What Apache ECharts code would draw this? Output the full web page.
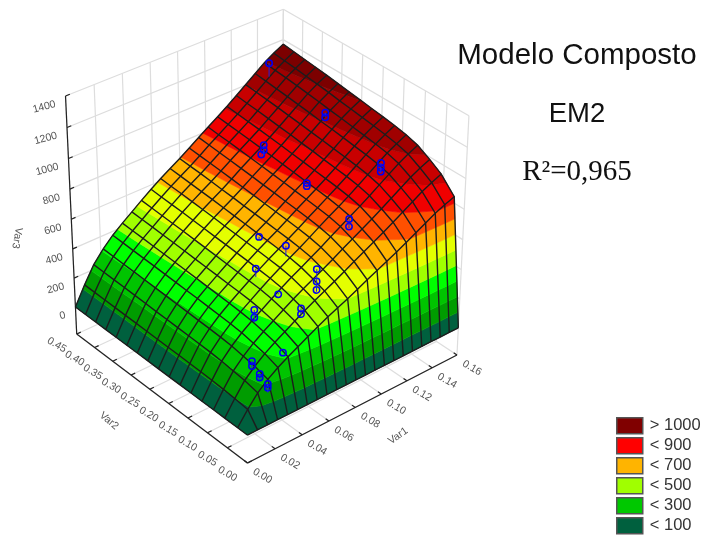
<!DOCTYPE html>
<html>
<head>
<meta charset="utf-8">
<style>html,body{margin:0;padding:0;background:#fff}#c{width:703px;height:536px}</style>
<script src="https://cdn.jsdelivr.net/npm/echarts@6/dist/echarts.min.js"></script>
</head>
<body>
<div id="c"></div>
<script>
// ---- axis ticks ----
const var1Ticks = [0, 0.02, 0.04, 0.06, 0.08, 0.10, 0.12, 0.14, 0.16];
const var2Ticks = [0, 0.05, 0.10, 0.15, 0.20, 0.25, 0.30, 0.35, 0.40, 0.45];
const var3Ticks = [0, 200, 400, 600, 800, 1000, 1200, 1400];
const var3Floor = -190;
// ---- fitted surface: one row per var2Grid value, one column per var1Grid value ----
const var1Grid = [0,0.0073,0.0145,0.0218,0.0291,0.0364,0.0436,0.0509,0.0582,0.0655,0.0727,0.08,0.0873,0.0945,0.1018,0.1091,0.1164,0.1236,0.1309,0.1382,0.1455,0.1527,0.16];
const var2Grid = [0, 0.024, 0.056, 0.084, 0.113, 0.141, 0.169, 0.197, 0.225, 0.253, 0.281, 0.309, 0.338, 0.366, 0.394, 0.422, 0.45];
const var3Rows = [
 [0,0,0,0,0,0,0,0,0,0,0,0,0,0,0,0,0,0,0,0,0,0,0],
 [0,89,167,223,269,307,342,377,411,443,472,500,531,563,594,624,655,688,722,757,791,818,842],
 [0,98,186,248,299,342,380,419,457,492,524,556,590,626,660,694,728,765,802,841,878,909,936],
 [0,104,195,261,315,360,400,441,481,518,552,585,621,658,695,730,766,805,845,885,925,957,985],
 [0,108,204,273,329,376,418,461,502,541,576,612,649,688,726,763,801,841,883,925,966,1000,1030],
 [0,111,209,279,337,384,428,472,514,554,590,626,664,704,743,780,819,860,903,946,988,1022,1053],
 [0,112,212,283,341,390,434,478,521,561,598,635,674,714,753,792,831,873,916,960,1002,1037,1068],
 [0,114,214,286,345,394,438,484,527,568,605,641,681,722,761,800,840,882,926,970,1013,1049,1080],
 [0,115,216,289,349,398,443,488,532,573,610,648,688,729,769,808,848,891,935,980,1023,1059,1090],
 [0,116,219,292,352,402,447,494,538,579,617,655,695,737,777,817,857,901,945,990,1034,1070,1102],
 [0,117,220,295,355,406,451,498,542,584,622,660,701,743,784,824,865,908,953,998,1043,1079,1112],
 [0,118,223,298,359,410,456,503,548,590,629,667,708,751,792,832,874,918,963,1009,1054,1091,1123],
 [0,119,225,300,362,414,460,508,553,596,635,673,715,758,799,840,882,926,972,1018,1064,1101,1134],
 [0,120,227,303,365,417,464,512,558,601,640,679,721,764,806,847,889,934,980,1027,1073,1110,1143],
 [0,121,229,305,368,421,468,516,562,606,645,685,727,770,813,854,896,942,988,1035,1082,1119,1152],
 [0,122,230,308,371,424,471,520,566,610,650,689,732,776,818,860,903,948,995,1043,1089,1127,1161],
 [0,123,232,310,374,427,475,524,571,615,655,695,738,782,825,867,910,956,1003,1051,1098,1136,1170]
];
// ---- observed points ----
const pointVar1 = [0.141,0.1416,0.1416,0.106,0.107,0.107,0.107,0.107,0.136,0.136,0.136,0.1045,0.1045,0.0704,0.072,0.0544,0.0695,0.0695,0.0695,0.0552,0.0554,0.0554,0.0368,0.0368,0.036,0.0206,0.0206,0.0192,0.0192,0.02,0.02];
const pointVar2 = [0.423,0.281,0.281,0.325,0.322,0.322,0.213,0.213,0.126,0.126,0.126,0.101,0.101,0.21,0.1485,0.164,0.065,0.065,0.065,0.111,0.056,0.056,0.108,0.108,0.035,0.0588,0.0588,0.035,0.035,0.018,0.018];
const pointVar3 = [1150,1012,1042,828,858,890,800,820,928,953,984,735,785,615,658,552,527,583,664,475,445,482,406,456,315,250,282,225,250,187,212];
// ---- contour bands ----
const bandLimits = [100,200,300,400,500,600,700,800,900,1000,1100,99999];
const bandColors = ['#00603e','#009c00','#00c400','#00ff00','#a0ff00','#e4ff00','#ffb400','#ff5000','#f00000','#c80000','#a00000','#7c0000'];
// ---- legend ----
const legendNames = ['> 1000','< 900','< 700','< 500','< 300','< 100'];
const legendColors = ['#800000','#ff0000','#ffb400','#a0ff00','#00c800','#00603e'];

// ---- camera of the box ----
const CAM = {
  x:[236.6,-165.4,-16.0,247.5],
  y:[-86.95,-105.6,-260.6,463],
  d:[0.05935,0.07007,-0.0611,1]
};
const maxV1 = 0.16, maxV2 = 0.45, maxV3 = 1400;
function project(v1,v2,v3){
  const u=v1/maxV1, v=v2/maxV2, w=(v3-var3Floor)/(maxV3-var3Floor);
  const den=CAM.d[0]*u+CAM.d[1]*v+CAM.d[2]*w+CAM.d[3];
  return [(CAM.x[0]*u+CAM.x[1]*v+CAM.x[2]*w+CAM.x[3])/den,
          (CAM.y[0]*u+CAM.y[1]*v+CAM.y[2]*w+CAM.y[3])/den];
}
function surfaceAt(v1,v2){
  let i=0,j=0;
  while(i<var1Grid.length-2 && v1>var1Grid[i+1]) i++;
  while(j<var2Grid.length-2 && v2>var2Grid[j+1]) j++;
  const s=(v1-var1Grid[i])/(var1Grid[i+1]-var1Grid[i]), t=(v2-var2Grid[j])/(var2Grid[j+1]-var2Grid[j]);
  return (1-s)*(1-t)*var3Rows[j][i]+s*(1-t)*var3Rows[j][i+1]+(1-s)*t*var3Rows[j+1][i]+s*t*var3Rows[j+1][i+1];
}
function clipAbove(poly,lim,sign){
  const out=[];
  for(let k=0;k<poly.length;k++){
    const a=poly[k], b=poly[(k+1)%poly.length];
    const ia=sign*(a[2]-lim)>=0, ib=sign*(b[2]-lim)>=0;
    if(ia) out.push(a);
    if(ia!==ib){
      const t=(lim-a[2])/(b[2]-a[2]);
      out.push([a[0]+t*(b[0]-a[0]),a[1]+t*(b[1]-a[1]),lim]);
    }
  }
  return out;
}
const fmt=(v,d)=>v.toFixed(d);

// ---- box lines (walls, floor, axes) ----
const boxLines=[];
function boxLine(a,b,color,width){boxLines.push({a,b,color,width});}
const WALL='#dddddd';
var1Ticks.forEach(t=>{
  boxLine([t,maxV2,var3Floor],[t,maxV2,maxV3],WALL,1.2);
  boxLine([t,0,var3Floor],[t,maxV2,var3Floor],WALL,1.2);
});
var2Ticks.forEach(t=>{
  boxLine([maxV1,t,var3Floor],[maxV1,t,maxV3],WALL,1.2);
  boxLine([0,t,var3Floor],[maxV1,t,var3Floor],WALL,1.2);
});
var3Ticks.forEach(t=>{
  boxLine([0,maxV2,t],[maxV1,maxV2,t],WALL,1.2);
  boxLine([maxV1,maxV2,t],[maxV1,0,t],WALL,1.2);
});
const AX='#222222';
boxLine([0,0,var3Floor],[maxV1,0,var3Floor],AX,1.2);
boxLine([0,0,var3Floor],[0,maxV2,var3Floor],AX,1.2);
boxLine([0,maxV2,var3Floor],[0,maxV2,maxV3],AX,1.2);
var1Ticks.forEach(t=>boxLine([t,0,var3Floor],[t,0.008,var3Floor],AX,1.2));
var2Ticks.forEach(t=>boxLine([0,t,var3Floor],[0.003,t,var3Floor],AX,1.2));
var3Ticks.forEach(t=>boxLine([0,maxV2,t],[0.003,maxV2,t],AX,1.2));

// ---- tick labels and axis names ----
const labels=[];
var1Ticks.forEach(t=>{const p=project(t,0,var3Floor);labels.push({t:fmt(t,2),x:p[0]+15,y:p[1]+13,r:-30,s:10.5,al:'center'});});
var2Ticks.forEach(t=>{const p=project(0,t,var3Floor);labels.push({t:fmt(t,2),x:p[0]-20,y:p[1]+11,r:-30,s:10.5,al:'center'});});
var3Ticks.forEach(t=>{const p=project(0,maxV2,t);labels.push({t:String(t),x:p[0]-10,y:p[1]+8,r:15,s:10.5,al:'right'});});
labels.push({t:'Var1',x:398,y:436,r:35,s:10.5,al:'center'});
labels.push({t:'Var2',x:109,y:421,r:-40,s:10.5,al:'center'});
labels.push({t:'Var3',x:17,y:238,r:-100,s:10.5,al:'center'});

// ---- surface cells, back to front ----
const cells=[];
for(let j=var2Grid.length-2;j>=0;j--) for(let i=var1Grid.length-2;i>=0;i--) cells.push([i,j]);
const meshLines=[];
var1Grid.forEach((_,i)=>meshLines.push({kind:'col',k:i}));
var2Grid.forEach((_,j)=>meshLines.push({kind:'row',k:j}));
const points=pointVar1.map((v,k)=>[v,pointVar2[k],pointVar3[k]]);

const chart=echarts.init(document.getElementById('c'),null,{renderer:'canvas'});
const titleFont=(family,size)=>({fontFamily:family,fontWeight:'normal',fontSize:size,color:'#111'});
chart.setOption({
  animation:false,
  backgroundColor:'#ffffff',
  grid:{left:0,right:0,top:0,bottom:0},
  xAxis:{type:'value',min:0,max:703,show:false},
  yAxis:{type:'value',min:0,max:536,inverse:true,show:false},
  title:[
    {text:'Modelo Composto',left:572,top:51,textAlign:'center',textVerticalAlign:'middle',textStyle:titleFont('Liberation Sans',29.5)},
    {text:'EM2',left:572,top:109,textAlign:'center',textVerticalAlign:'middle',textStyle:titleFont('Liberation Sans',27.5)},
    {text:'R²=0,965',left:572,top:167,textAlign:'center',textVerticalAlign:'middle',textStyle:titleFont('Liberation Serif',29)}
  ],
  legend:{
    orient:'vertical',left:616,top:417,height:119,padding:0,itemWidth:26,itemHeight:16,itemGap:2.5,icon:'rect',selectedMode:false,
    data:legendNames,
    itemStyle:{borderColor:'#555',borderWidth:1.5},
    textStyle:{fontFamily:'Liberation Sans',fontSize:16.5,lineHeight:16,color:'#333',padding:[0,0,0,2]}
  },
  series:[
    ...legendNames.map((n,k)=>({name:n,type:'custom',coordinateSystem:'cartesian2d',data:[],itemStyle:{color:legendColors[k]},renderItem:()=>null})),
    {type:'custom',coordinateSystem:'cartesian2d',silent:true,clip:false,z:1,data:boxLines.map((_,k)=>[k]),
     renderItem(params,api){
       const L=boxLines[params.dataIndex];
       const a=api.coord(project(...L.a)), b=api.coord(project(...L.b));
       return {type:'line',shape:{x1:a[0],y1:a[1],x2:b[0],y2:b[1]},style:{stroke:L.color,lineWidth:L.width,fill:null}};
     }},
    {type:'custom',coordinateSystem:'cartesian2d',silent:true,clip:false,z:2,data:labels.map((_,k)=>[k]),
     renderItem(params,api){
       const L=labels[params.dataIndex];
       const c=api.coord([L.x,L.y]);
       return {type:'text',x:c[0],y:c[1],rotation:L.r*Math.PI/180,
         style:{text:L.t,x:0,y:0,align:L.al,verticalAlign:'middle',fill:'#555',font:L.s+'px "Liberation Sans"'}};
     }},
    {type:'custom',coordinateSystem:'cartesian2d',silent:true,clip:false,z:3,data:cells,
     renderItem(params,api){
       const [i,j]=cells[params.dataIndex];
       const corner=(a,b)=>{const z=var3Rows[b][a];const c=api.coord(project(var1Grid[a],var2Grid[b],z));return [c[0],c[1],z];};
       const quad=[corner(i,j),corner(i+1,j),corner(i+1,j+1),corner(i,j+1)];
       const kids=[];let lo=-1e9;
       bandLimits.forEach((hi,b)=>{
         let p=clipAbove(quad,lo,1);
         if(p.length) p=clipAbove(p,hi,-1);
         if(p.length>2) kids.push({type:'polygon',shape:{points:p.map(q=>[q[0],q[1]])},style:{fill:bandColors[b],stroke:bandColors[b],lineWidth:0.6}});
         lo=hi;
       });
       return {type:'group',children:kids};
     }},
    {type:'custom',coordinateSystem:'cartesian2d',silent:true,clip:false,z:4,data:meshLines.map((_,k)=>[k]),
     renderItem(params,api){
       const M=meshLines[params.dataIndex];
       const pts=M.kind==='col'
         ? var2Grid.map((v2,b)=>api.coord(project(var1Grid[M.k],v2,var3Rows[b][M.k])))
         : var1Grid.map((v1,a)=>api.coord(project(v1,var2Grid[M.k],var3Rows[M.k][a])));
       return {type:'polyline',shape:{points:pts},style:{stroke:'#1c1c1c',lineWidth:1.4,fill:null}};
     }},
    {type:'custom',coordinateSystem:'cartesian2d',silent:true,clip:false,z:5,data:points,
     renderItem(params,api){
       const P=points[params.dataIndex];
       const c=api.coord(project(P[0],P[1],P[2]));
       const s=api.coord(project(P[0],P[1],surfaceAt(P[0],P[1])));
       return {type:'group',children:[
         {type:'line',shape:{x1:c[0],y1:c[1],x2:s[0],y2:s[1]},style:{stroke:'#2020e0',lineWidth:1,fill:null}},
         {type:'circle',shape:{cx:c[0],cy:c[1],r:3.2},style:{stroke:'#0000f0',lineWidth:1.5,fill:null}}
       ]};
     }}
  ]
});
</script>
</body>
</html>
